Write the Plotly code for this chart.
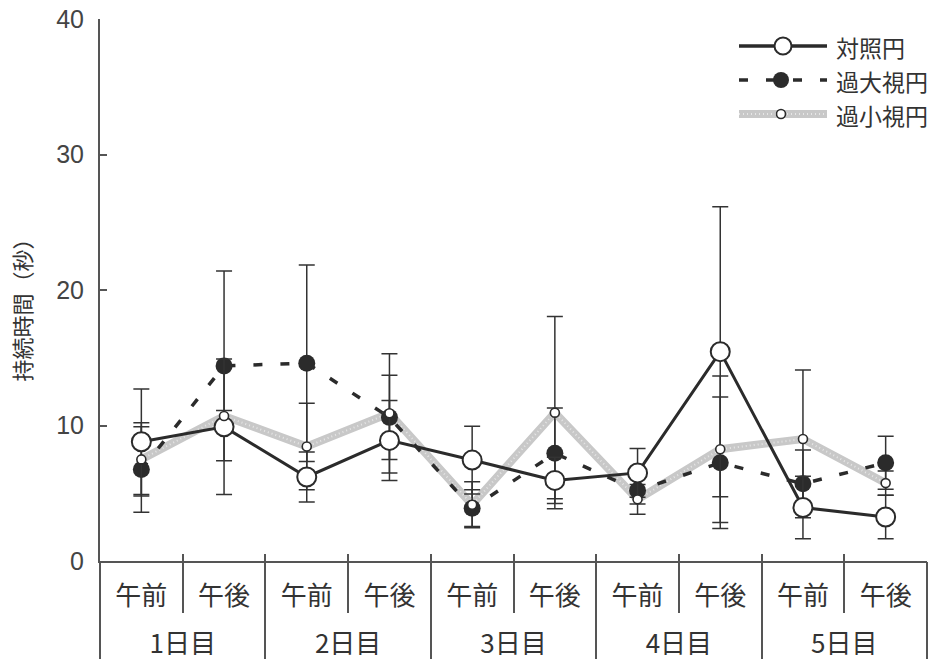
import plotly.graph_objects as go

# --- data -------------------------------------------------------------
sessions = ["午前", "午後"] * 5
days = ["1日目", "2日目", "3日目", "4日目", "5日目"]
y_ticks = [0, 10, 20, 30, 40]

series_names = ["対照円", "過大視円", "過小視円"]

control_mean = [8.8, 9.9, 6.2, 8.9, 7.45, 5.95, 6.5, 15.45, 3.95, 3.25]
control_sd = [3.9, 5.0, 1.85, 2.95, 2.5, 1.7, 1.8, 10.7, 2.3, 1.6]

over_mean = [6.75, 14.4, 14.6, 10.6, 3.9, 7.95, 5.2, 7.25, 5.7, 7.25]
over_sd = [3.15, 7.0, 7.25, 3.1, 1.35, 3.35, 1.0, 4.85, 2.5, 1.95]

under_mean = [7.5, 10.7, 8.45, 10.9, 4.15, 10.95, 4.55, 8.25, 9.0, 5.75]
under_sd = [2.7, 0.4, 3.2, 4.4, 1.7, 7.1, 1.1, 5.4, 5.1, 0.9]

# --- positions on the category axis -----------------------------------
n = len(sessions)
x = list(range(n))
half_bounds = [i + 0.5 for i in range(0, n - 1, 2)]          # 午前|午後
day_bounds = [-0.5] + [i + 1.5 for i in range(0, n, 2)]       # day edges
all_bounds = [i - 0.5 for i in range(n + 1)]

INK = "#2b2b2b"
AXIS = "#555555"
CJK = "Noto Sans CJK JP"
LATIN = "Liberation Sans, Arial, sans-serif"

err_style = dict(type="data", visible=True, color="#333333", thickness=1.5, width=8)

fig = go.Figure()

# 過小視円: wide grey textured band
fig.add_trace(go.Scatter(
    x=x, y=under_mean, mode="lines", name=series_names[2],
    line=dict(color="#c8c8c8", width=8),
    error_y=dict(array=under_sd, **err_style),
    showlegend=False, hoverinfo="skip"))
fig.add_trace(go.Scatter(
    x=x, y=under_mean, mode="lines",
    line=dict(color="#e6e6e6", width=2, dash="1px,3px"),
    showlegend=False, hoverinfo="skip"))

# 過大視円: dashed line, filled circles
fig.add_trace(go.Scatter(
    x=x, y=over_mean, mode="lines+markers", name=series_names[1],
    line=dict(color=INK, width=3.5, dash="9px,18px"),
    marker=dict(symbol="circle", size=17, color=INK, line=dict(width=0)),
    error_y=dict(array=over_sd, **err_style),
    showlegend=False))

# 対照円: solid line, open circles
fig.add_trace(go.Scatter(
    x=x, y=control_mean, mode="lines+markers", name=series_names[0],
    line=dict(color=INK, width=3),
    marker=dict(symbol="circle", size=19, color="white", line=dict(color=INK, width=2)),
    error_y=dict(array=control_sd, **err_style),
    showlegend=False))

# 過小視円 small open circles on top
fig.add_trace(go.Scatter(
    x=x, y=under_mean, mode="markers",
    marker=dict(symbol="circle", size=9, color="white", line=dict(color=INK, width=1.6)),
    showlegend=False))

# helper traces so the overlaid category axes are drawn
for ax in ["x2", "x3", "x4"]:
    fig.add_trace(go.Scatter(x=[None], y=[None], xaxis=ax, yaxis="y",
                             showlegend=False, hoverinfo="skip"))

# --- key (drawn on a hidden pixel-like overlay) ------------------------
key_rows = [46, 80, 114]
key_x0, key_x1, key_mid = 739, 827, 783
fig.add_trace(go.Scatter(
    x=[key_x0, key_x1], y=[key_rows[0]] * 2, mode="lines", xaxis="x5", yaxis="y2",
    line=dict(color=INK, width=3.5), showlegend=False, hoverinfo="skip"))
fig.add_trace(go.Scatter(
    x=[key_mid], y=[key_rows[0]], mode="markers", xaxis="x5", yaxis="y2",
    marker=dict(size=17, color="white", line=dict(color=INK, width=2)),
    showlegend=False, hoverinfo="skip"))
fig.add_trace(go.Scatter(
    x=[key_x0, key_x1], y=[key_rows[1]] * 2, mode="lines", xaxis="x5", yaxis="y2",
    line=dict(color=INK, width=3.5, dash="9px,18px"), showlegend=False, hoverinfo="skip"))
fig.add_trace(go.Scatter(
    x=[key_mid - 2], y=[key_rows[1]], mode="markers", xaxis="x5", yaxis="y2",
    marker=dict(size=16, color=INK, line=dict(width=0)),
    showlegend=False, hoverinfo="skip"))
fig.add_trace(go.Scatter(
    x=[key_x0, key_x1], y=[key_rows[2]] * 2, mode="lines", xaxis="x5", yaxis="y2",
    line=dict(color="#c8c8c8", width=8), showlegend=False, hoverinfo="skip"))
fig.add_trace(go.Scatter(
    x=[key_x0, key_x1], y=[key_rows[2]] * 2, mode="lines", xaxis="x5", yaxis="y2",
    line=dict(color="#e6e6e6", width=2, dash="1px,3px"), showlegend=False, hoverinfo="skip"))
fig.add_trace(go.Scatter(
    x=[key_mid - 2], y=[key_rows[2]], mode="markers", xaxis="x5", yaxis="y2",
    marker=dict(size=9, color="white", line=dict(color=INK, width=1.6)),
    showlegend=False, hoverinfo="skip"))

annotations = []
for name, row in zip(series_names, key_rows):
    annotations.append(dict(
        text=name, x=834, y=row + 1, xref="x5", yref="y2", xanchor="left", yanchor="middle",
        showarrow=False, font=dict(family=CJK, size=23, color="#333333")))

# y-axis title
annotations.append(dict(
    text="持続時間（秒）", x=-0.095, y=0.474, xref="paper", yref="paper",
    textangle=-90, showarrow=False, xanchor="center", yanchor="middle",
    font=dict(family=CJK, size=22, color="#333333")))

xrange = [-0.5, n - 0.5]
base_x = dict(range=xrange, showgrid=False, zeroline=False, fixedrange=True,
              automargin=False)

fig.update_layout(
    width=947, height=662,
    margin=dict(l=100, r=20, t=19, b=101, autoexpand=False),
    paper_bgcolor="white", plot_bgcolor="white",
    showlegend=False,
    annotations=annotations,
    xaxis=dict(**base_x, tickmode="array", tickvals=all_bounds, ticks="inside",
               ticklen=7, tickwidth=1.5, tickcolor=AXIS, showticklabels=False,
               showline=True, linecolor=AXIS, linewidth=2),
    xaxis2=dict(**base_x, overlaying="x", anchor="y", side="bottom",
                tickmode="array", tickvals=x, ticktext=sessions, ticks="",
                showline=False, ticklabelstandoff=17,
                tickfont=dict(family=CJK, size=26, color="#333333")),
    xaxis3=dict(**base_x, overlaying="x", anchor="y", side="bottom",
                tickmode="array", tickvals=half_bounds,
                ticktext=days, ticks="outside", ticklen=51, tickwidth=1.5,
                tickcolor=AXIS, showline=False, ticklabelstandoff=9,
                tickfont=dict(family=CJK, size=26, color="#333333")),
    xaxis4=dict(**base_x, overlaying="x", anchor="y", side="bottom",
                tickmode="array", tickvals=day_bounds, ticks="outside", ticklen=97,
                tickwidth=1.5, tickcolor=AXIS, showticklabels=False, showline=False),
    xaxis5=dict(range=[100, 927], overlaying="x", anchor="y2", visible=False,
                fixedrange=True),
    yaxis=dict(range=[0, 40], tickmode="array", tickvals=y_ticks, ticks="inside",
               ticklen=7, tickwidth=1.5, tickcolor=AXIS, showline=True,
               linecolor=AXIS, linewidth=2, showgrid=False, zeroline=False,
               ticklabelstandoff=9, fixedrange=True, automargin=False,
               tickfont=dict(family=LATIN, size=25, color="#444444")),
    yaxis2=dict(range=[561, 19], overlaying="y", anchor="x5", visible=False,
                fixedrange=True),
)

fig.write_html("out.html", config={"displayModeBar": False})
